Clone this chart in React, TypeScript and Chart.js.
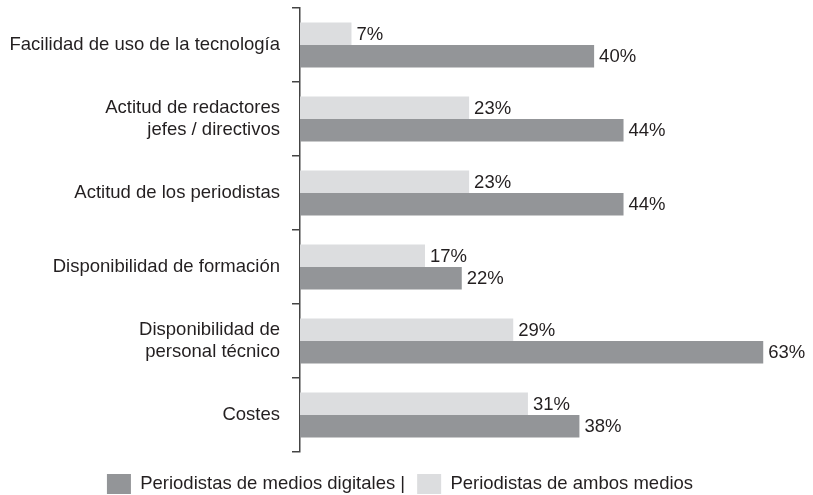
import React, { useEffect, useRef } from "react";
import { Chart, registerables } from "chart.js";

Chart.register(...registerables);

const categories: (string | string[])[] = [
  "Facilidad de uso de la tecnología",
  ["Actitud de redactores", "jefes / directivos"],
  "Actitud de los periodistas",
  "Disponibilidad de formación",
  ["Disponibilidad de", "personal técnico"],
  "Costes",
];

const ambosMedios = [7, 23, 23, 17, 29, 31];
const mediosDigitales = [40, 44, 44, 22, 63, 38];

const labelAmbos = "Periodistas de ambos medios";
const labelDigitales = "Periodistas de medios digitales |";

const FONT = "'Liberation Sans', Arial, Helvetica, sans-serif";
const TEXT = "#231f20";

const valueLabels = {
  id: "valueLabels",
  afterDatasetsDraw(chart: any) {
    const ctx = chart.ctx;
    ctx.save();
    ctx.font = `18.5px ${FONT}`;
    ctx.fillStyle = TEXT;
    ctx.textAlign = "left";
    ctx.textBaseline = "middle";
    chart.data.datasets.forEach((ds: any, i: number) => {
      const meta = chart.getDatasetMeta(i);
      meta.data.forEach((el: any, j: number) => {
        ctx.fillText(`${ds.data[j]}%`, el.x + 5, el.y + 1);
      });
    });
    ctx.restore();
  },
};

const legendShift = {
  id: "legendShift",
  afterLayout(chart: any) {
    const lg = chart.legend;
    if (!lg) return;
    const dy = 10;
    lg.top += dy;
    lg.bottom += dy;
    if (lg.legendHitBoxes) {
      lg.legendHitBoxes.forEach((h: any) => {
        h.top += dy;
      });
    }
  },
};

export default function App() {
  const ref = useRef<HTMLCanvasElement | null>(null);

  useEffect(() => {
    if (!ref.current) return;
    const chart = new Chart(ref.current, {
      type: "bar",
      data: {
        labels: categories,
        datasets: [
          {
            label: labelAmbos,
            data: ambosMedios,
            backgroundColor: "#dcdddf",
            categoryPercentage: 0.61,
            barPercentage: 1,
          },
          {
            label: labelDigitales,
            data: mediosDigitales,
            backgroundColor: "#939598",
            categoryPercentage: 0.61,
            barPercentage: 1,
          },
        ],
      },
      options: {
        animation: false,
        responsive: true,
        maintainAspectRatio: false,
        indexAxis: "y",
        layout: { padding: { top: 8, right: 13, left: 0, bottom: 1 } },
        scales: {
          x: {
            display: false,
            min: 0,
            max: 68,
          },
          y: {
            type: "category",
            grid: {
              offset: true,
              drawOnChartArea: false,
              drawTicks: true,
              tickLength: 8,
              color: "#444",
              lineWidth: 1.5,
            },
            border: { display: true, color: "#444", width: 1.5 },
            ticks: {
              padding: 12,
              color: TEXT,
              font: { family: FONT, size: 18.5, lineHeight: 1.2 },
            },
            afterFit: (scale: any) => {
              scale.width = 300;
              scale.paddingTop = 0;
              scale.paddingBottom = 0;
            },
          },
        },
        plugins: {
          legend: {
            position: "bottom",
            reverse: true,
            labels: {
              boxWidth: 24,
              boxHeight: 20,
              padding: 12,
              color: TEXT,
              font: { family: FONT, size: 18.5 },
            },
          },
          tooltip: { enabled: false },
        },
      },
      plugins: [valueLabels, legendShift],
    });
    return () => chart.destroy();
  }, []);

  return (
    <div style={{ position: "fixed", left: 0, top: 0, width: 813, height: 495, background: "#fff" }}>
      <canvas ref={ref} />
    </div>
  );
}
